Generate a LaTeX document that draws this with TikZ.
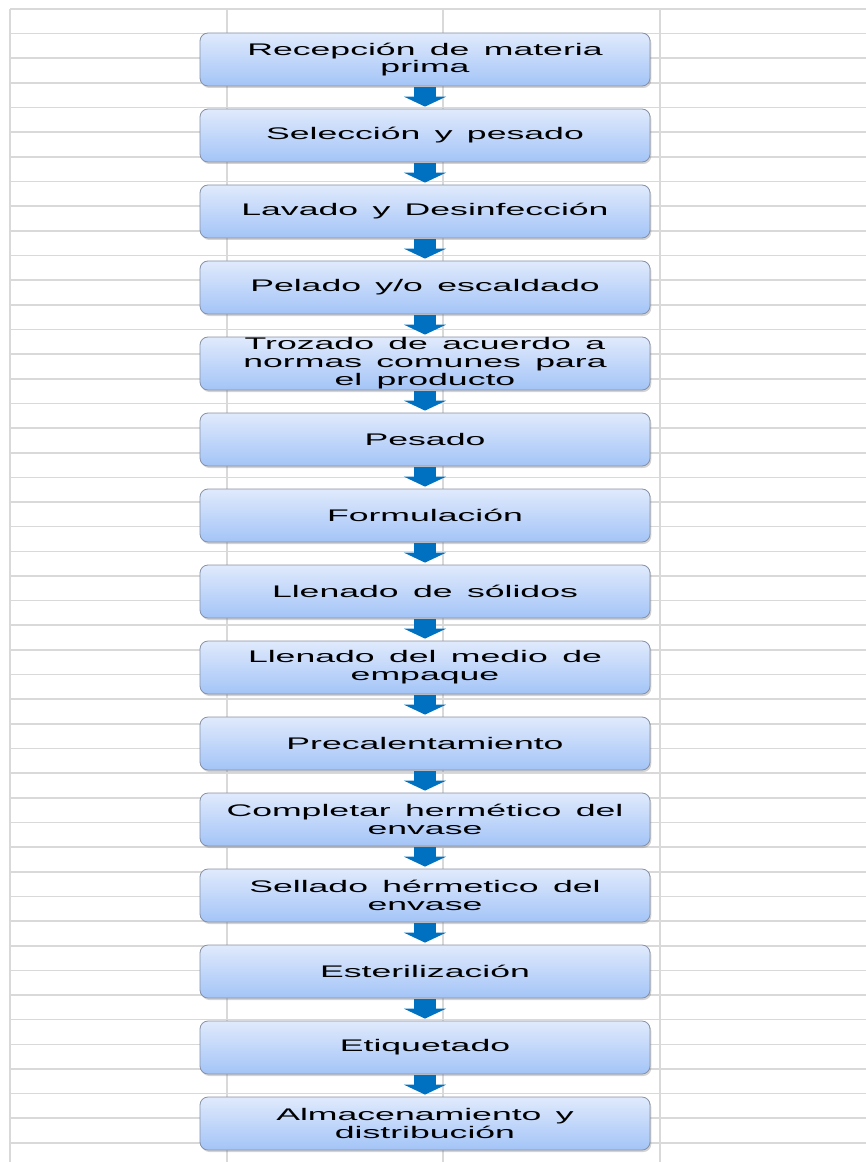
\documentclass[tikz,border=0pt]{standalone}
\usepackage{fontspec}
\setmainfont{Liberation Sans}[FakeStretch=2.12,WordSpace=1.45]
\usetikzlibrary{arrows.meta,shadows}
\definecolor{celda}{RGB}{217,217,217}
\definecolor{cajaarriba}{RGB}{224,234,252}
\definecolor{cajaabajo}{RGB}{163,196,247}
\definecolor{borde}{RGB}{135,145,165}
\definecolor{flecha}{RGB}{0,112,192}
\begin{document}
\begin{tikzpicture}[x=0.75pt,y=-0.75pt,
    paso/.style={rectangle,rounded corners=6pt,draw=borde,line width=0.6pt,
      top color=cajaarriba,bottom color=cajaabajo,
      drop shadow={shadow xshift=1pt,shadow yshift=-1.5pt,opacity=0.35},
      minimum width=337.5pt,minimum height=39.75pt,inner xsep=2pt,inner ysep=0pt,
      align=center,font=\fontsize{12.6}{13.4}\selectfont},
    flujo/.style={draw=flecha,line width=16.5pt,shorten <=0.75pt,shorten >=1.5pt,
      -{Triangle[width=31.5pt,length=7.5pt]}}]
  \useasboundingbox (0,0) rectangle (866,1162);
  % cuadricula de la hoja
  \foreach \k in {0,...,46}
    \draw[celda,line width=1.2pt] (10,9+24.65*\k) -- (866,9+24.65*\k);
  \foreach \c in {10,227,443,660}
    \draw[celda,line width=1.2pt] (\c,9) -- (\c,1162);
  % pasos del proceso
  \node (rec) at (425,59.5) [paso] {Recepción de materia\\prima};
  \node (sel) at (425,135.5) [paso] {Selección y pesado};
  \node (lav) at (425,211.5) [paso] {Lavado y Desinfección};
  \node (pel) at (425,287.5) [paso] {Pelado y/o escaldado};
  \node (tro) at (425,363.5) [paso] {Trozado de acuerdo a\\normas comunes para\\el producto};
  \node (pes) at (425,439.5) [paso] {Pesado};
  \node (frm) at (425,515.5) [paso] {Formulación};
  \node (lls) at (425,591.5) [paso] {Llenado de sólidos};
  \node (llm) at (425,667.5) [paso] {Llenado del medio de\\empaque};
  \node (pre) at (425,743.5) [paso] {Precalentamiento};
  \node (com) at (425,819.5) [paso] {Completar hermético del\\envase};
  \node (sed) at (425,895.5) [paso] {Sellado hérmetico del\\envase};
  \node (est) at (425,971.5) [paso] {Esterilización};
  \node (eti) at (425,1047.5) [paso] {Etiquetado};
  \node (alm) at (425,1123.5) [paso] {Almacenamiento y\\distribución};
  % flechas
  \draw[flujo] (rec) -- (sel);
  \draw[flujo] (sel) -- (lav);
  \draw[flujo] (lav) -- (pel);
  \draw[flujo] (pel) -- (tro);
  \draw[flujo] (tro) -- (pes);
  \draw[flujo] (pes) -- (frm);
  \draw[flujo] (frm) -- (lls);
  \draw[flujo] (lls) -- (llm);
  \draw[flujo] (llm) -- (pre);
  \draw[flujo] (pre) -- (com);
  \draw[flujo] (com) -- (sed);
  \draw[flujo] (sed) -- (est);
  \draw[flujo] (est) -- (eti);
  \draw[flujo] (eti) -- (alm);
\end{tikzpicture}
\end{document}
